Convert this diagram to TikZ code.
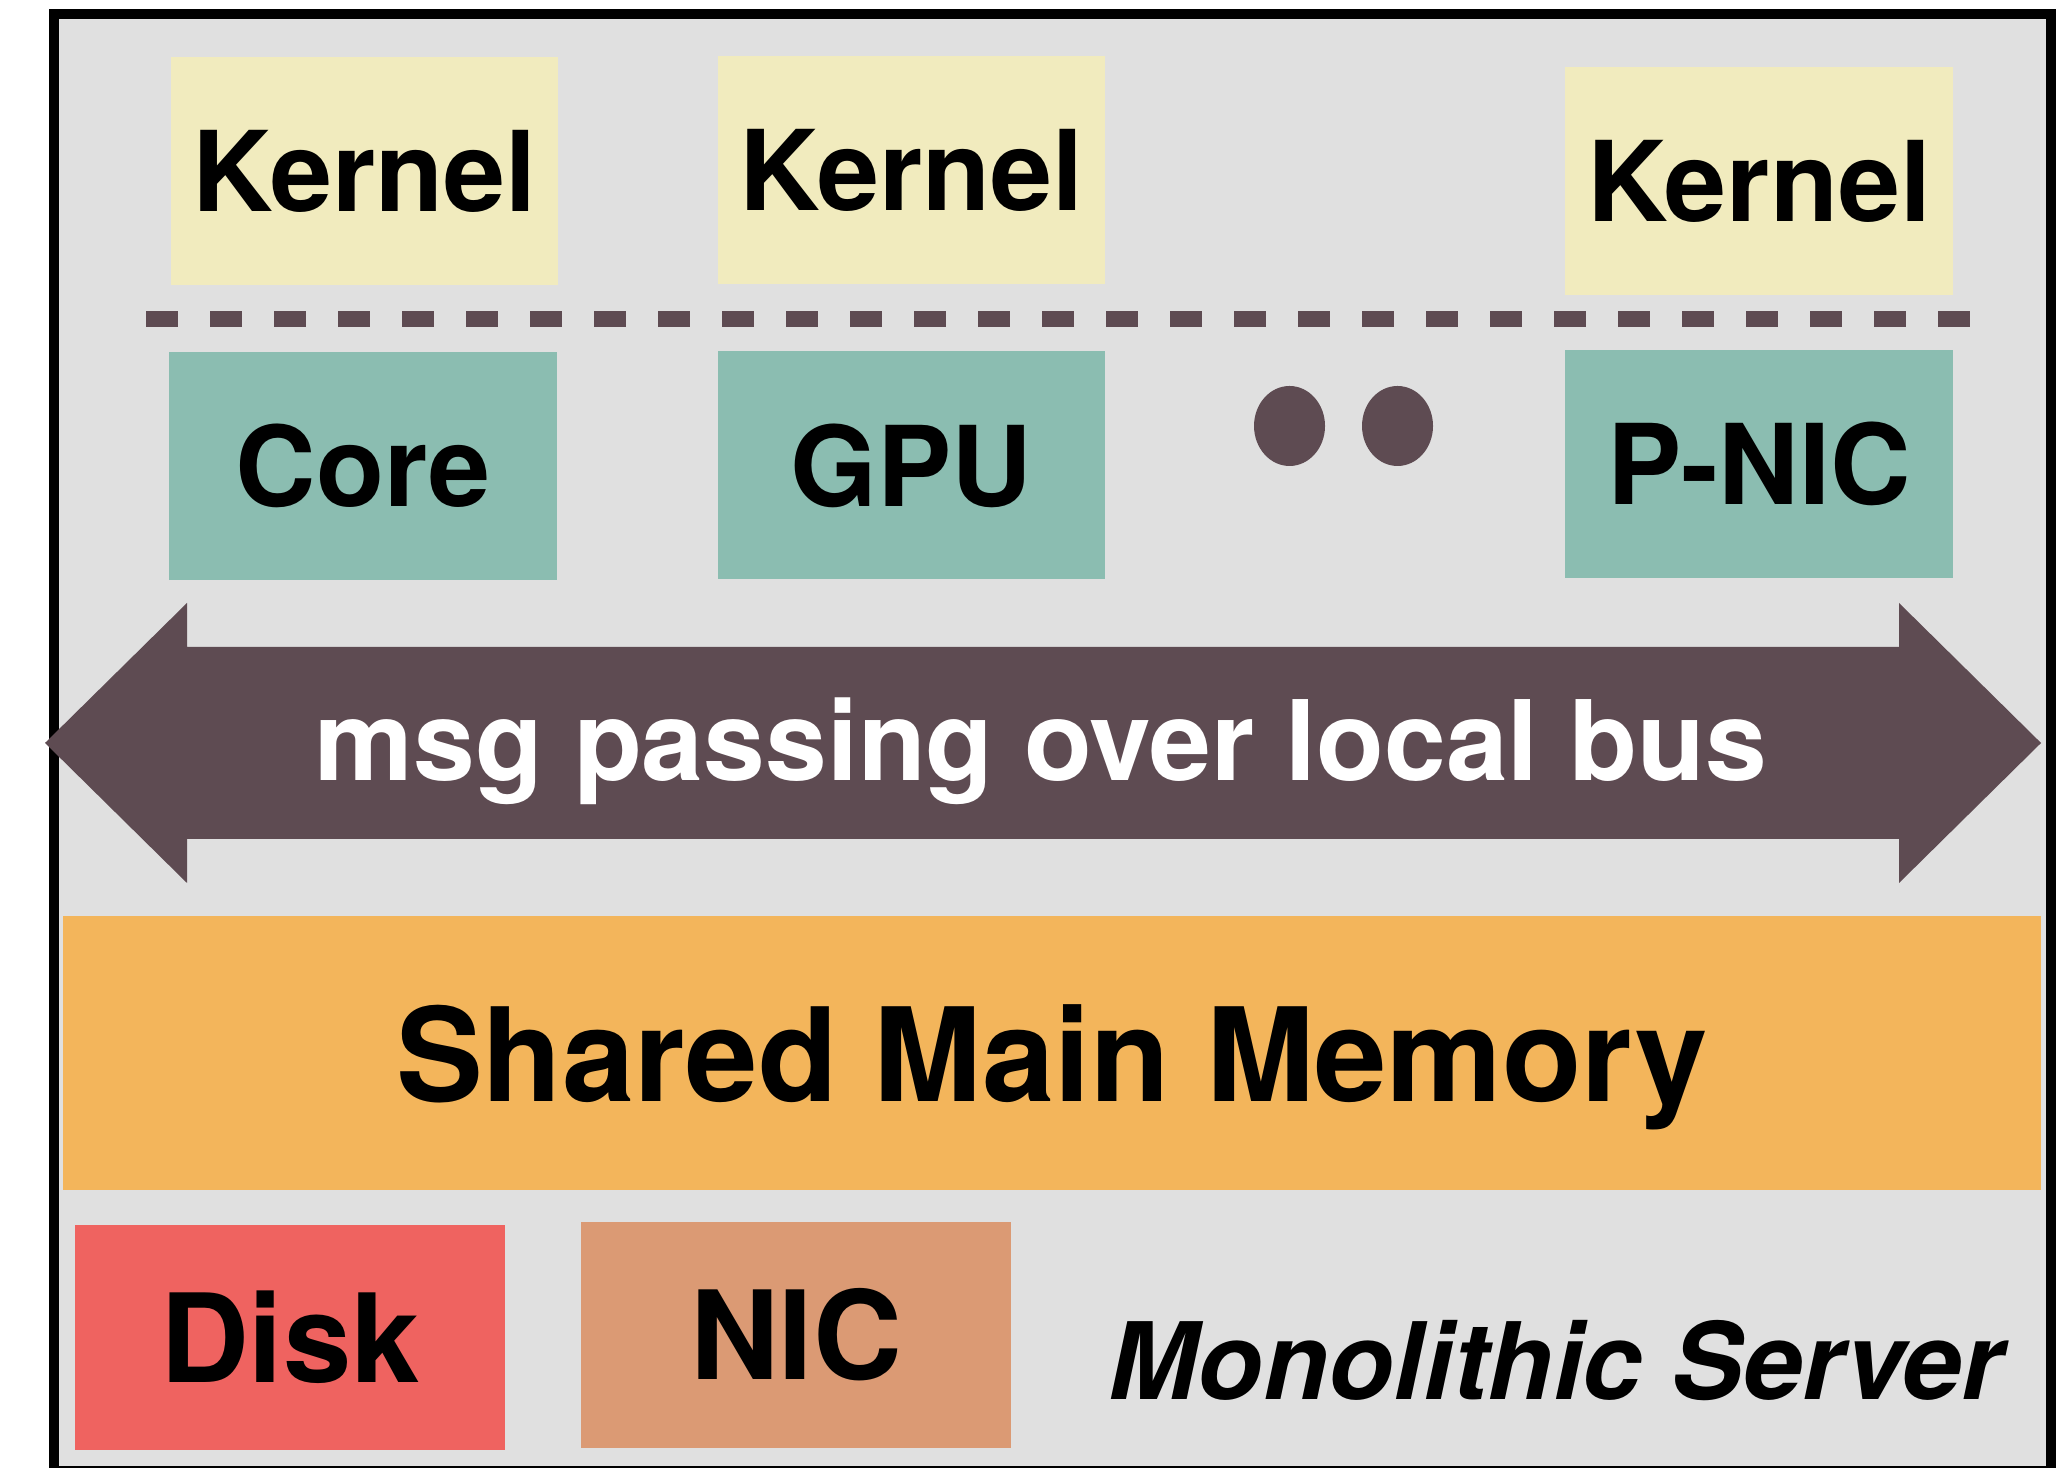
\documentclass[tikz,border=0pt]{standalone}
\usepackage{fontspec}
\setmainfont{TeX Gyre Heros}
\usepackage{tikz}

\definecolor{servergray}{HTML}{E0E0E0}
\definecolor{kernelyellow}{HTML}{F1EBBE}
\definecolor{unitgreen}{HTML}{8BBDB1}
\definecolor{busbrown}{HTML}{5E4B52}
\definecolor{memorange}{HTML}{F3B55B}
\definecolor{diskred}{HTML}{EF6360}
\definecolor{nictan}{HTML}{DB9A74}

\begin{document}
\begin{tikzpicture}[
    box/.style={inner sep=0pt, font=\fontsize{31.7}{31.7}\selectfont\bfseries},
    kernelbox/.style={box, fill=kernelyellow, minimum height=2.28cm},
    unitbox/.style={box, fill=unitgreen, minimum height=2.28cm},
    devbox/.style={box, minimum width=4.30cm, minimum height=2.25cm, font=\fontsize{35}{35}\selectfont\bfseries}
  ]
  \useasboundingbox (0,0) rectangle (20.65,14.67);

  % Draw the server frame
  \draw[line width=0.1cm, fill=servergray] (0.54,-0.04) rectangle (20.51,14.525);

  % Kernels on top
  \node[kernelbox, minimum width=3.87cm] (kernel1) at (3.645,12.96) {Kernel};
  \node[kernelbox, minimum width=3.87cm] (kernel2) at (9.115,12.97) {Kernel};
  \node[kernelbox, minimum width=3.875cm] (kernel3) at (17.59,12.86) {Kernel};

  % Dashed divider
  \coordinate (divleft) at (1.46,11.48);
  \coordinate (divright) at (19.70,11.48);
  \draw[busbrown, line width=0.16cm, dash pattern=on 0.32cm off 0.32cm] (divleft) -- (divright);

  % Processing units
  \node[unitbox, minimum width=3.88cm] (core) at (3.63,10.01) {Core};
  \node[unitbox, minimum width=3.87cm] (gpu) at (9.115,10.015) {GPU};
  \node[unitbox, minimum width=3.875cm] (pnic) at (17.59,10.03) {P-NIC};

  % Dots between the units
  \fill[busbrown] (12.895,10.41) ellipse (0.355cm and 0.40cm);
  \fill[busbrown] (13.975,10.41) ellipse (0.355cm and 0.40cm);

  % Local bus as a double arrow
  \fill[busbrown] (0.45,7.24) -- (1.87,8.64) -- (1.87,8.20) -- (18.99,8.20) -- (18.99,8.64)
    -- (20.41,7.24) -- (18.99,5.84) -- (18.99,6.28) -- (1.87,6.28) -- (1.87,5.84) -- cycle;
  \node[white, anchor=base, inner sep=0pt, font=\fontsize{31.6}{31.6}\selectfont\bfseries] (bus) at (10.41,6.86) {msg passing over local bus};

  % Shared memory
  \node[box, fill=memorange, minimum width=19.785cm, minimum height=2.74cm, text depth=0pt,
    font=\fontsize{37}{37}\selectfont\bfseries] (memory) at (10.52,4.14) {Shared Main Memory};

  % Devices at the bottom
  \node[devbox, fill=diskred] (disk) at (2.90,1.295) {Disk};
  \node[devbox, fill=nictan] (nic) at (7.96,1.32) {NIC};

  % Caption
  \node[anchor=base east, inner sep=0pt, font=\fontsize{30.4}{30.4}\selectfont\bfseries\itshape] (caption) at (20.04,0.68) {Monolithic Server};
\end{tikzpicture}
\end{document}
